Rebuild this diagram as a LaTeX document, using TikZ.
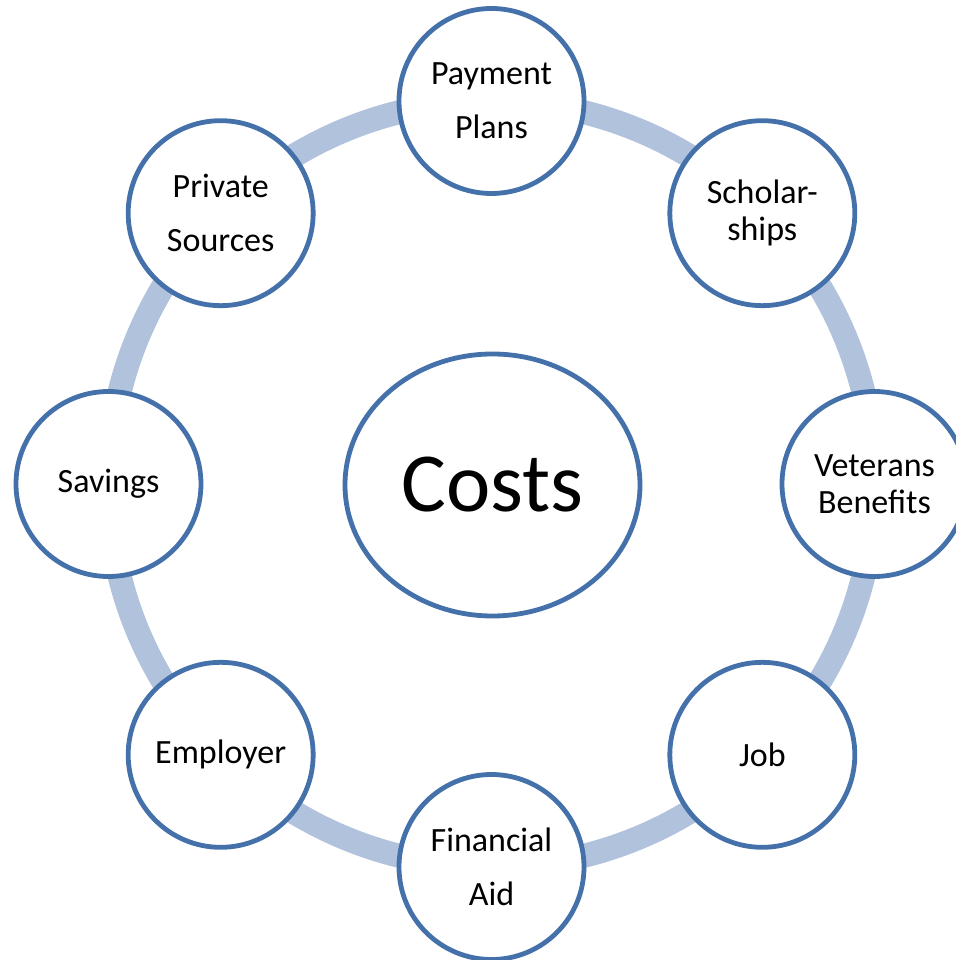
\documentclass[tikz,border=0pt]{standalone}
\usepackage{fontspec}
\setmainfont{Carlito}
\usetikzlibrary{shapes.geometric}
\definecolor{ringblue}{RGB}{177,194,221}
\definecolor{edgeblue}{RGB}{69,113,171}
\tikzstyle{ring}=[draw=ringblue,line width=24pt]
\tikzstyle{source}=[circle,draw=edgeblue,fill=white,line width=4.8pt,minimum size=185pt,inner sep=0pt,align=center,font=\fontsize{34}{37}\selectfont]
\tikzstyle{hub}=[ellipse,draw=edgeblue,fill=white,line width=4.8pt,minimum width=295pt,minimum height=262pt,inner sep=0pt,font=\fontsize{84}{96}\selectfont]

\begin{document}
\begin{tikzpicture}[x=1pt,y=1pt]
\useasboundingbox (-491.5,-476) rectangle (463.5,484);

% ring behind everything
    \draw[ring] (0,0) circle (383pt);

    \node[hub] (costs) at (1,-1) {Costs};

  \foreach \ang/\name/\label in {90/plans/{Payment\\[17pt]Plans}, 45/scholar/{Scholar-\\ships},
        0/veterans/{Veterans\\Benefits}, -45/job/{Job}, -90/aid/{Financial\\[17pt]Aid},
        -135/employer/{Employer}, 180/savings/{Savings}, 135/private/{Private\\[17pt]Sources}}
        \node[source] (\name) at (\ang:383pt) {\label};

\end{tikzpicture}
\end{document}
